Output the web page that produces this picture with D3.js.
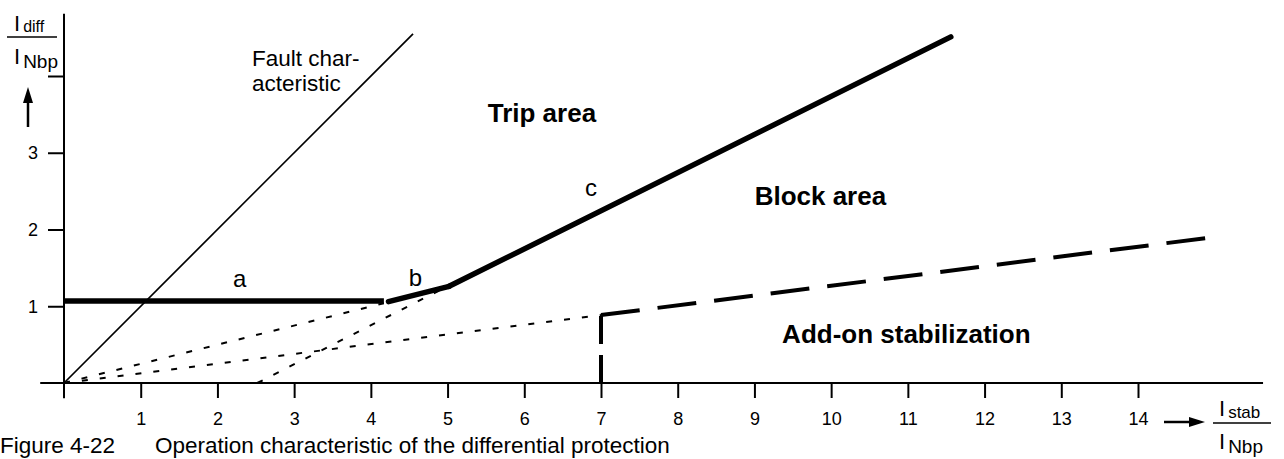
<!DOCTYPE html>
<html>
<head>
<meta charset="utf-8">
<script src="https://cdn.jsdelivr.net/npm/d3@7"></script>
<style>
  html, body { margin: 0; padding: 0; background: #fff; }
  svg { display: block; font-family: "Liberation Sans", Arial, Helvetica, sans-serif; }
</style>
</head>
<body>
<svg id="chart" width="1284" height="459"></svg>
<script>
// ---- data ----
const xTicks = [1,2,3,4,5,6,7,8,9,10,11,12,13,14];
const yTicks = [1,2,3,4];
const yTickLabels = ["1","2","3",""];

// Fault characteristic (I_diff = I_stab)
const faultLine = [[0,0],[4.55,4.55]];
// Tripping characteristic branches
const branchA = [[0,1.07],[4.17,1.07]];
const branchB = [[4.23,1.06],[5.02,1.26]];
const branchC = [[5.02,1.26],[11.56,4.51]];
// Dotted construction lines
const dottedBase1 = [[0,0],[4.17,1.04]];
const dottedBase2 = [[2.52,0],[4.92,1.22]];
const dottedAddOn = [[0,0],[7,0.885]];
// Add-on stabilization (dashed)
const addOnSlope = [[7,0.885],[14.98,1.9]];
const addOnVertical = [[7,0],[7,0.885]];

// Text annotations (data coordinates)
const regionLabels = [
  {text:"Trip area", x:6.23, y:3.40},
  {text:"Block area", x:9.86, y:2.32},
  {text:"Add-on stabilization", x:10.98, y:0.52}
];
const branchLabels = [
  {text:"a", x:2.29, y:1.25},
  {text:"b", x:4.58, y:1.26},
  {text:"c", x:6.87, y:2.44}
];
const faultLabel = [
  {text:"Fault char-", x:2.45, y:4.13},
  {text:"acteristic", x:2.45, y:3.81}
];
const captionParts = ["Figure 4-22", "Operation characteristic of the differential protection"];

// ---- scales ----
const x = d3.scaleLinear().domain([0,14]).range([64,1138]);
const y = d3.scaleLinear().domain([0,4]).range([383,76]);

const svg = d3.select("#chart");
const line = d3.line().x(d => x(d[0])).y(d => y(d[1]));

// ---- axes ----
const xAxis = d3.axisBottom(x).tickValues(xTicks).tickSize(15).tickPadding(14).tickFormat(d3.format("d"));
const gx = svg.append("g").attr("transform", `translate(0,${y(0)})`).call(xAxis);
gx.select(".domain").remove();
gx.selectAll(".tick line").attr("stroke","#000").attr("stroke-width",2);
gx.selectAll(".tick text").attr("font-size",18).attr("fill","#000")
  .attr("font-family","Liberation Sans, Arial, sans-serif");

const yAxis = d3.axisLeft(y).tickValues(yTicks).tickSize(16).tickPadding(10)
  .tickFormat((d,i) => yTickLabels[i]);
const gy = svg.append("g").attr("transform", `translate(${x(0)},0)`).call(yAxis);
gy.select(".domain").remove();
gy.selectAll(".tick line").attr("stroke","#000").attr("stroke-width",2);
gy.selectAll(".tick text").attr("font-size",18).attr("fill","#000")
  .attr("font-family","Liberation Sans, Arial, sans-serif");

// axis lines
svg.append("line").attr("x1", x(-0.31)).attr("x2", x(15.63)).attr("y1", y(0)).attr("y2", y(0))
  .attr("stroke","#000").attr("stroke-width",2);
svg.append("line").attr("x1", x(0)).attr("x2", x(0)).attr("y1", y(-0.2)).attr("y2", y(4.81))
  .attr("stroke","#000").attr("stroke-width",2);

// ---- lines ----
function draw(data, w, dash, cap) {
  const p = svg.append("path").datum(data).attr("d", line)
    .attr("fill","none").attr("stroke","#000").attr("stroke-width", w)
    .attr("stroke-linecap", cap || "butt").attr("stroke-linejoin","round");
  if (dash) p.attr("stroke-dasharray", dash);
  return p;
}
draw(dottedBase1, 2, "6,12");
draw(dottedBase2, 2, "6,12");
draw(dottedAddOn, 2, "6,12");
draw(faultLine, 1.7);
draw(branchA, 5.5, null, "butt");
draw(branchB, 5.5, null, "round");
draw(branchC, 5.5, null, "round");
draw(addOnSlope, 4, "39,18");
// vertical drawn bottom-up
draw(addOnVertical, 4, "28,11");

// ---- annotations ----
svg.selectAll(".region").data(regionLabels).join("text")
  .attr("x", d => x(d.x)).attr("y", d => y(d.y))
  .attr("text-anchor","middle").attr("font-size",26).attr("font-weight","bold")
  .attr("fill","#000").text(d => d.text);

svg.selectAll(".branch").data(branchLabels).join("text")
  .attr("x", d => x(d.x)).attr("y", d => y(d.y))
  .attr("text-anchor","middle").attr("font-size",24)
  .attr("fill","#000").text(d => d.text);

svg.selectAll(".fault").data(faultLabel).join("text")
  .attr("x", d => x(d.x)).attr("y", d => y(d.y))
  .attr("font-size",22.5).attr("fill","#000").text(d => d.text);

// ---- y axis label (fraction) ----
const yl = svg.append("g");
yl.append("text").attr("x",14).attr("y",31).attr("font-size",22).text("I")
  .append("tspan").attr("font-size",16).attr("dx",3).attr("dy",1).text("diff");
yl.append("line").attr("x1",7).attr("x2",57).attr("y1",37).attr("y2",37).attr("stroke","#000").attr("stroke-width",1.6);
yl.append("text").attr("x",14).attr("y",64).attr("font-size",22).text("I")
  .append("tspan").attr("font-size",19).attr("dx",3).attr("dy",4).text("Nbp");
yl.append("line").attr("x1",28).attr("x2",28).attr("y1",127).attr("y2",100).attr("stroke","#000").attr("stroke-width",2.5);
yl.append("path").attr("d","M28,87 L23,103 L33,103 Z").attr("fill","#000");

// ---- x axis label (fraction) ----
const xl = svg.append("g");
xl.append("line").attr("x1",1164).attr("x2",1192).attr("y1",422).attr("y2",422).attr("stroke","#000").attr("stroke-width",2.5);
xl.append("path").attr("d","M1205,422 L1189,417 L1189,427 Z").attr("fill","#000");
xl.append("text").attr("x",1219).attr("y",416).attr("font-size",22).text("I")
  .append("tspan").attr("font-size",17).attr("dx",3).attr("dy",2).text("stab");
xl.append("line").attr("x1",1213).attr("x2",1271).attr("y1",423).attr("y2",423).attr("stroke","#000").attr("stroke-width",1.6);
xl.append("text").attr("x",1219).attr("y",449).attr("font-size",22).text("I")
  .append("tspan").attr("font-size",19).attr("dx",3).attr("dy",4).text("Nbp");

// ---- caption ----
svg.append("text").attr("x",0).attr("y",453).attr("font-size",22.5).text(captionParts[0]);
svg.append("text").attr("x",155).attr("y",453).attr("font-size",22.5).text(captionParts[1]);
</script>
</body>
</html>
